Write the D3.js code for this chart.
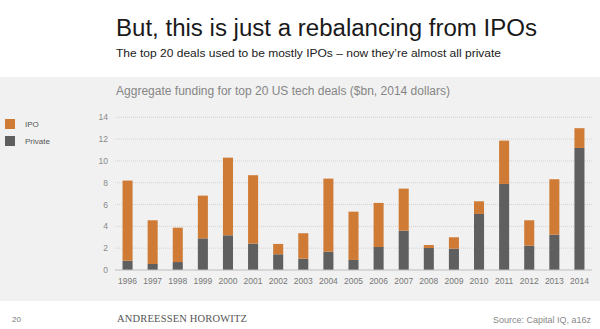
<!DOCTYPE html>
<html>
<head>
<meta charset="utf-8">
<script src="https://cdn.jsdelivr.net/npm/d3@7"></script>
<style>
  body { margin: 0; background: #fff; }
  svg { display: block; font-family: "Liberation Sans", Arial, sans-serif; }
  .grid line { stroke: #d2d2d2; stroke-dasharray: 1,1; }
  .y-label { fill: #8a8a8a; font-size: 8.5px; }
  .x-label { fill: #777; font-size: 8.5px; }
</style>
</head>
<body>
<svg id="chart" width="600" height="329"></svg>
<script>
  const years = ['1996', '1997', '1998', '1999', '2000', '2001', '2002', '2003', '2004', '2005',
    '2006', '2007', '2008', '2009', '2010', '2011', '2012', '2013', '2014'];
  const privateVals = [0.85, 0.55, 0.73, 2.9, 3.18, 2.42, 1.44, 1.04, 1.68, 0.92,
    2.11, 3.61, 2.02, 1.96, 5.14, 7.89, 2.23, 3.24, 11.19];
  const ipoVals = [7.35, 4.01, 3.15, 3.92, 7.12, 6.27, 0.95, 2.33, 6.7, 4.43,
    4.04, 3.85, 0.27, 1.04, 1.16, 3.97, 2.33, 5.08, 1.81];
  const yTicks = [0, 2, 4, 6, 8, 10, 12, 14];
  const seriesNames = ['IPO', 'Private'];
  const seriesColors = ['#cf7b36', '#5f5f5f'];

  const svg = d3.select('#chart');
  const width = 600;

  // gray panel behind the chart
  svg.append('rect')
    .attr('x', 0)
    .attr('y', 77)
    .attr('width', width)
    .attr('height', 224)
    .attr('fill', '#f1f1f1');

  svg.append('text')
    .attr('x', 116)
    .attr('y', 36)
    .attr('font-size', '23.5px')
    .attr('fill', '#1a1a1a')
    .attr('textLength', 421)
    .attr('lengthAdjust', 'spacingAndGlyphs')
    .text('But, this is just a rebalancing from IPOs');

  svg.append('text')
    .attr('x', 116)
    .attr('y', 56.5)
    .attr('font-size', '11.8px')
    .attr('fill', '#1a1a1a')
    .attr('textLength', 385)
    .attr('lengthAdjust', 'spacingAndGlyphs')
    .text('The top 20 deals used to be mostly IPOs \u2013 now they\u2019re almost all private');

  svg.append('text')
    .attr('x', 116)
    .attr('y', 95)
    .attr('font-size', '12px')
    .attr('fill', '#858585')
    .attr('textLength', 334)
    .attr('lengthAdjust', 'spacingAndGlyphs')
    .text('Aggregate funding for top 20 US tech deals ($bn, 2014 dollars)');

  const x = d3.scaleBand()
    .domain(years)
    .range([115, 592])
    .paddingInner(0.6)
    .paddingOuter(0.3);

  const y = d3.scaleLinear()
    .domain([0, 14])
    .range([270, 117.3]);

  svg.append('g')
    .attr('class', 'grid')
    .selectAll('line')
    .data(yTicks.filter(d => d > 0))
    .enter()
      .append('line')
      .attr('x1', 115)
      .attr('x2', 592)
      .attr('y1', d => y(d))
      .attr('y2', d => y(d));

  svg.append('g')
    .selectAll('text')
    .data(yTicks)
    .enter()
      .append('text')
      .attr('class', 'y-label')
      .attr('x', 108)
      .attr('y', d => y(d) + 3)
      .attr('text-anchor', 'end')
      .text(d => d);

  const stacked = years.map((yr, i) => ({ year: yr, priv: privateVals[i], ipo: ipoVals[i] }));

  const bars = svg.append('g');
  bars.selectAll('.bar-private')
    .data(stacked)
    .enter()
      .append('rect')
      .attr('class', 'bar-private')
      .attr('x', d => x(d.year))
      .attr('width', x.bandwidth())
      .attr('y', d => y(d.priv))
      .attr('height', d => y(0) - y(d.priv))
      .attr('fill', seriesColors[1]);

  bars.selectAll('.bar-ipo')
    .data(stacked)
    .enter()
      .append('rect')
      .attr('class', 'bar-ipo')
      .attr('x', d => x(d.year))
      .attr('width', x.bandwidth())
      .attr('y', d => y(d.priv + d.ipo))
      .attr('height', d => y(d.priv) - y(d.priv + d.ipo))
      .attr('fill', seriesColors[0]);

  svg.append('line')
    .attr('x1', 115)
    .attr('x2', 592)
    .attr('y1', y(0))
    .attr('y2', y(0))
    .attr('stroke', '#bdbdbd')
    .attr('stroke-width', 1);

  svg.append('g')
    .selectAll('text')
    .data(years)
    .enter()
      .append('text')
      .attr('class', 'x-label')
      .attr('x', d => x(d) + x.bandwidth() / 2)
      .attr('y', 284)
      .attr('text-anchor', 'middle')
      .text(d => d);

  // legend
  const legend = svg.append('g')
    .selectAll('g')
    .data(seriesNames)
    .enter()
      .append('g')
      .attr('transform', (d, i) => `translate(5, ${119 + i * 17})`);

  legend.append('rect')
    .attr('width', 10)
    .attr('height', 10)
    .attr('fill', (d, i) => seriesColors[i]);

  legend.append('text')
    .attr('x', 20)
    .attr('y', 8)
    .attr('font-size', '8px')
    .attr('fill', '#555')
    .text(d => d);

  // footer
  svg.append('text')
    .attr('x', 12)
    .attr('y', 322)
    .attr('font-size', '8px')
    .attr('fill', '#777')
    .text('20');

  svg.append('text')
    .attr('x', 117)
    .attr('y', 322)
    .attr('font-size', '10.5px')
    .attr('font-family', '"Liberation Serif", "DejaVu Serif", serif')
    .attr('fill', '#555')
    .attr('textLength', 130)
    .text('ANDREESSEN HOROWITZ');

  svg.append('text')
    .attr('x', 591)
    .attr('y', 323)
    .attr('text-anchor', 'end')
    .attr('font-size', '9px')
    .attr('fill', '#888')
    .text('Source: Capital IQ, a16z');
</script>
</body>
</html>
